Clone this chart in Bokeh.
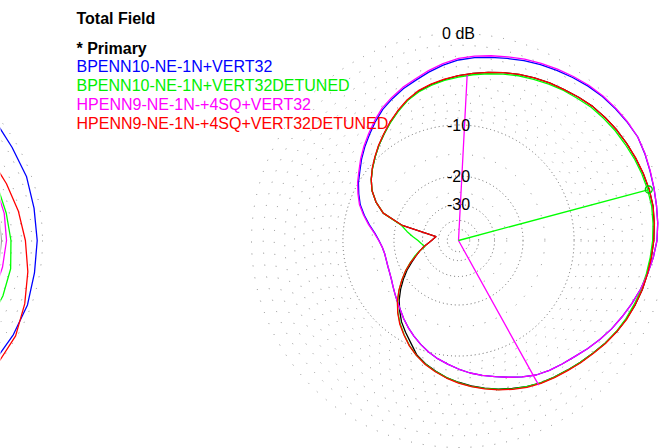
import numpy as np
from bokeh.plotting import figure
from bokeh.models import Range1d
from bokeh.core.properties import value
from bokeh.embed import file_html
from bokeh.resources import INLINE

# ---------------- data: main azimuth plot (dB, 0 dB = outer ring), every 5 deg ----------------
bearing = list(range(0, 360, 5))

primary_db = [-3.9, -3.6, -3.3, -3.0, -2.7, -2.45, -2.2, -2.0, -1.75, -1.5, -1.35, -1.2, -1.1,
              -1.0, -0.9, -0.82, -0.8, -0.9, -1.0, -1.15, -1.3, -1.45, -1.65, -1.9, -2.15, -2.5,
              -2.85, -3.15, -3.45, -3.7, -3.95, -4.3, -4.7, -5.1, -5.55, -6.0, -6.5, -7.0, -7.65,
              -8.3, -9.1, -10.4, -11.5, -12.6, -14.0, -15.5, -17.3, -19.3, -21.4, -23.8, -26.0,
              -28.2, -30.5, -32.9, -35.0, -36.6, -37.9, -21.8, -16.3, -14.1, -12.5, -11.4, -10.5,
              -9.65, -8.8, -8.0, -7.15, -6.35, -5.6, -5.0, -4.6, -4.25]
hpenn_det_db = [-3.9, -3.6, -3.3, -3.0, -2.7, -2.45, -2.2, -2.0, -1.75, -1.5, -1.35, -1.2, -1.1,
                -0.98, -0.88, -0.8, -0.8, -0.88, -1.0, -1.15, -1.3, -1.45, -1.65, -1.85, -2.15,
                -2.45, -2.8, -3.1, -3.4, -3.65, -3.9, -4.2, -4.6, -5.0, -5.45, -5.9, -6.4, -6.95,
                -7.55, -8.2, -9.0, -9.9, -11.0, -12.1, -13.45, -15.0, -16.8, -18.8, -20.9, -23.3,
                -26.0, -28.2, -30.5, -32.9, -35.0, -36.6, -37.9, -21.8, -16.3, -14.1, -12.5,
                -11.4, -10.45, -9.6, -8.75, -7.95, -7.1, -6.3, -5.55, -4.95, -4.55, -4.2]
bpenn_det_db = [-4.05, -3.75, -3.45, -3.15, -2.85, -2.6, -2.35, -2.1, -1.9, -1.65, -1.5, -1.35,
                -1.25, -1.12, -1.02, -0.95, -0.92, -1.0, -1.1, -1.25, -1.4, -1.55, -1.75, -1.95,
                -2.2, -2.5, -2.85, -3.15, -3.45, -3.7, -3.95, -4.3, -4.65, -5.05, -5.5, -5.95,
                -6.45, -7.0, -7.6, -8.25, -9.0, -9.95, -11.05, -12.2, -13.5, -15.0, -16.8, -18.8,
                -20.9, -23.2, -25.5, -28.0, -31.0, -29.5, -28.0, -25.8, -23.6, -21.5, -16.3,
                -14.1, -12.5, -11.4, -10.5, -9.65, -8.8, -8.0, -7.2, -6.4, -5.65, -5.1, -4.7,
                -4.35]
bpenn_db = [-2.35, -2.07, -1.84, -1.61, -1.34, -1.11, -0.89, -0.68, -0.46, -0.29, -0.17, -0.07,
            0.0, -0.12, -0.27, -0.39, -0.5, -0.59, -0.72, -0.98, -1.29, -1.61, -1.98, -2.35,
            -2.71, -3.13, -3.55, -3.97, -4.29, -4.58, -4.93, -5.47, -6.05, -6.59, -7.08, -7.59,
            -8.18, -8.79, -9.36, -10.01, -10.77, -11.57, -12.4, -13.28, -14.2, -14.98, -15.69,
            -16.32, -16.86, -17.2, -17.38, -17.47, -17.42, -17.08, -16.42, -15.48, -14.2,
            -12.92, -11.73, -10.85, -10.01, -9.29, -8.45, -7.66, -6.9, -6.11, -5.36, -4.8,
            -4.26, -3.81, -3.28, -2.78]
hpenn_db = [-2.2, -1.92, -1.69, -1.46, -1.2, -0.98, -0.77, -0.57, -0.37, -0.22, -0.12, -0.04,
            0.0, -0.1, -0.25, -0.38, -0.5, -0.59, -0.72, -0.98, -1.29, -1.61, -1.98, -2.35,
            -2.71, -3.13, -3.55, -3.97, -4.29, -4.58, -4.93, -5.47, -6.05, -6.59, -7.08, -7.59,
            -8.18, -8.79, -9.36, -10.01, -10.77, -11.57, -12.4, -13.28, -14.2, -14.98, -15.69,
            -16.32, -16.86, -17.2, -17.38, -17.47, -17.42, -17.08, -16.35, -15.38, -14.05,
            -12.77, -11.58, -10.7, -9.86, -9.14, -8.3, -7.51, -6.75, -5.96, -5.21, -4.65,
            -4.11, -3.66, -3.13, -2.63]

max_gain_bearing = 75
max_gain_db = -0.85
beamwidth_bearings = [3, 151]
beamwidth_db = -3.85

ring_major_db = [-10, -20, -30, -40, -50]
ring_minor_db = [0, -1, -2, -3, -4, -5, -6, -7, -8, -9, -15, -25]
ring_label_db = [0, -10, -20, -30]
ring_labels = ["0 dB", "-10", "-20", "-30"]

# ---------------- data: neighbouring plot (only its right edge is visible) ----------------
left_bearing = [50, 60, 70, 80, 90, 100, 110, 120, 130]
left_primary_db = [None, None, None, -4.2, -4.12, -4.2, None, None, None]
left_bpenn_db = [-0.36, -0.50, -0.43, -0.51, -0.48, -0.47, -0.33, -0.35, -0.36]
left_bpenn_det_db = [None, -3.65, -3.5, -3.33, -3.08, -2.85, -2.9, -3.05, None]
left_hpenn_db = [None, None, -3.7, -3.55, -3.56, -3.75, -3.95, None, None]
left_hpenn_det_db = [-3.1, -2.85, -2.5, -2.05, -1.6, -1.1, -0.6, -0.12, 0.0]

title = "Total Field"
legend_head = "* Primary"
legend_names = ["BPENN10-NE-1N+VERT32", "BPENN10-NE-1N+VERT32DETUNED",
                "HPENN9-NE-1N-+4SQ+VERT32", "HPENN9-NE-1N-+4SQ+VERT32DETUNED"]
legend_colors = ["#0000ff", "#00f000", "#ff00ff", "#ff0000"]

# ---------------- geometry / scale ----------------
R0 = 207.0          # 0 dB ring radius of main plot (px)
RL = 192.0          # 0 dB ring radius of neighbouring plot
LEFT_CX = -608.0    # centre of neighbouring plot relative to main centre
CX_PAGE, CY_PAGE = 458, 240


def arrl(db, R):
    return R * 0.89 ** (-np.asarray(db, dtype=float) / 2.0)


def polar_xy(bear, db, R, cx=0.0, close=False):
    b = np.radians(np.asarray(bear, dtype=float))
    r = arrl(db, R)
    x = cx + r * np.sin(b)
    y = r * np.cos(b)
    if close:
        x = np.append(x, x[0])
        y = np.append(y, y[0])
    return x, y


FONT = value("Liberation Sans")
W, H = 659, 448
p = figure(width=W, height=H,
           x_range=Range1d(-CX_PAGE, W - CX_PAGE), y_range=Range1d(CY_PAGE - H, CY_PAGE),
           output_backend="svg", toolbar_location=None, min_border=0,
           x_axis_type=None, y_axis_type=None)
p.outline_line_color = None
p.background_fill_color = "white"
p.border_fill_color = "white"

# grid rings
for cx, R in ((0.0, R0), (LEFT_CX, RL)):
    p.circle(x=[cx] * len(ring_minor_db), y=[0] * len(ring_minor_db),
             radius=list(arrl(ring_minor_db, R)), fill_color=None,
             line_color="#8a8a8a", line_width=1, line_dash="1 11")
    p.circle(x=[cx] * len(ring_major_db), y=[0] * len(ring_major_db),
             radius=list(arrl(ring_major_db, R)), fill_color=None,
             line_color="#666666", line_width=1, line_dash="1 3")

# main traces
LW = 1.3
for db, col in ((primary_db, "#000000"), (bpenn_db, "#0000ff"), (bpenn_det_db, "#00ff00"),
                (hpenn_db, "#ff00ff"), (hpenn_det_db, "#ff0000")):
    x, y = polar_xy(bearing, db, R0, close=True)
    p.line(x, y, line_color=col, line_width=LW)


# neighbouring plot traces
def seg(bear, db):
    bb = [b for b, d in zip(bear, db) if d is not None]
    dd = [d for d in db if d is not None]
    return polar_xy(bb, dd, RL, cx=LEFT_CX)


for db, col in ((left_primary_db, "#a0a0a0"), (left_bpenn_db, "#0000ff"),
                (left_bpenn_det_db, "#00ff00"), (left_hpenn_db, "#ff00ff"),
                (left_hpenn_det_db, "#ff0000")):
    x, y = seg(left_bearing, db)
    p.line(x, y, line_color=col, line_width=LW)

# beamwidth (magenta) and max-gain (green) lines
bx, by = polar_xy(beamwidth_bearings, [beamwidth_db] * 2, R0)
p.line([bx[0], 0, bx[1]], [by[0], 0, by[1]], line_color="#ff00ff", line_width=1.3)
gx, gy = polar_xy([max_gain_bearing], [max_gain_db], R0)
p.line([0, gx[0]], [0, gy[0]], line_color="#00ff00", line_width=1.3)
p.scatter(gx, gy, marker="circle", size=7, fill_color=None, line_color="#00d000",
          line_width=1.3)

# ring labels
p.text(x=[0] * len(ring_labels), y=list(arrl(ring_label_db, R0)), text=ring_labels,
       text_font=FONT, text_font_size="16px", text_align="center",
       text_baseline="middle", text_color="black")

# title and legend
TX = 76 - CX_PAGE
p.text(x=[TX], y=[CY_PAGE - 18], text=[title], text_font=FONT, text_font_size="16px",
       text_font_style="bold", text_baseline="middle", text_color="black")
p.text(x=[TX], y=[CY_PAGE - 47.5], text=[legend_head], text_font=FONT, text_font_size="16px",
       text_font_style="bold", text_baseline="middle", text_color="black")
ly = [CY_PAGE - 66.3 - 18.9 * i for i in range(len(legend_names))]
p.text(x=[TX] * len(legend_names), y=ly, text=legend_names, text_font=FONT,
       text_font_size="16px", text_baseline="middle", text_color=legend_colors)

open("out.html", "w").write(file_html(p, INLINE))
